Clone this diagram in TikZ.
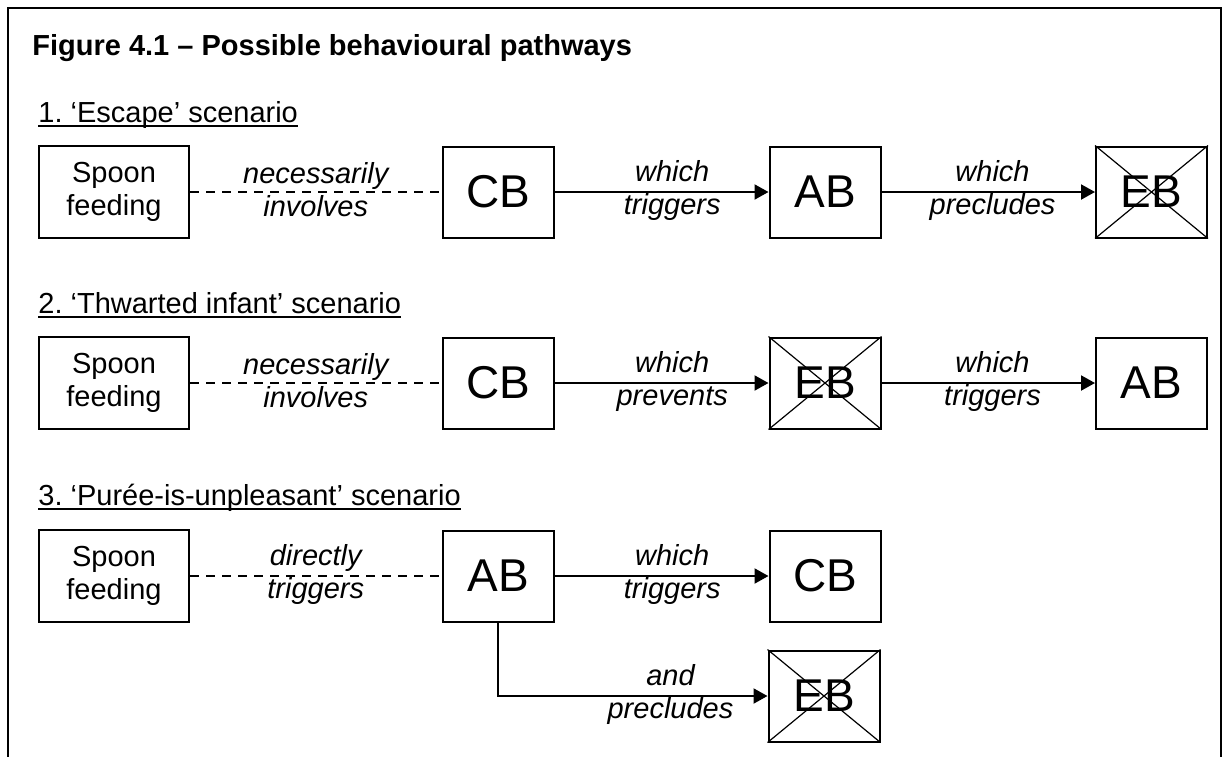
\documentclass[tikz,border=0pt]{standalone}
\usepackage{fontspec}
\setmainfont{Liberation Sans}
\usetikzlibrary{arrows.meta}
\frenchspacing
\newcommand\strikebox[1]{\draw[cross] (#1.north west) -- (#1.south east) (#1.north east) -- (#1.south west);}
\newcommand\headline[1]{\draw[line width=1pt] ([yshift=-2pt]#1.base west) -- ([yshift=-2pt]#1.base east);}
\begin{document}
\begin{tikzpicture}[x=0.5pt,y=-0.5pt,
    box/.style={draw,line width=1pt,minimum width=55.5pt,minimum height=45.5pt,inner sep=0pt,font=\fontsize{23}{27}\selectfont},
    feedbox/.style={box,minimum width=75pt,minimum height=46pt,align=center,font=\fontsize{14.5}{16.5}\selectfont},
    heading/.style={anchor=base west,inner sep=0pt,font=\fontsize{14.5}{16.5}\selectfont},
    lbl/.style={align=center,inner sep=0pt,yshift=1pt,font=\fontsize{14.5}{16.5}\selectfont\itshape},
    arr/.style={-{Triangle[length=7pt,width=7.5pt]},line width=1pt},
    link/.style={dash pattern=on 4.5pt off 3.5pt,line width=0.8pt},
    cross/.style={line width=0.6pt}]
    \useasboundingbox (0,0) rectangle (1224,756);
    \draw[line width=1.2pt] (8,790) -- (8,8) -- (1221,8) -- (1221,790);
    \node[heading,font=\fontsize{14.5}{16.5}\selectfont\bfseries] (title) at (32,55) {Figure 4.1 -- Possible behavioural pathways};
    % 1. escape
    \node[heading] (h1) at (38,122) {1. `Escape' scenario};
    \headline{h1}
    \node[feedbox] (sp1) at (114,192) {Spoon\\feeding};
    \node[box] (cb1) at (498,192) {CB};
    \node[box] (ab1) at (825,192) {AB};
    \node[box] (eb1) at (1151.5,192) {EB};
    \strikebox{eb1}
    \draw[link] (sp1) -- node[lbl] {necessarily\\involves} (cb1);
    \draw[arr] (cb1) -- node[lbl,pos=0.55] {which\\triggers} (ab1);
    \draw[arr] (ab1) -- node[lbl,pos=0.52] {which\\precludes} (eb1);
    % 2. thwarted infant
    \node[heading] (h2) at (38,313) {2. `Thwarted infant' scenario};
    \headline{h2}
    \node[feedbox] (sp2) at (114,383) {Spoon\\feeding};
    \node[box] (cb2) at (498,383) {CB};
    \node[box] (eb2) at (825,383) {EB};
    \node[box] (ab2) at (1151.5,383) {AB};
    \strikebox{eb2}
    \draw[link] (sp2) -- node[lbl] {necessarily\\involves} (cb2);
    \draw[arr] (cb2) -- node[lbl,pos=0.55] {which\\prevents} (eb2);
    \draw[arr] (eb2) -- node[lbl,pos=0.52] {which\\triggers} (ab2);
    % 3. puree
    \node[heading] (h3) at (38,505) {3. `Purée-is-unpleasant' scenario};
    \headline{h3}
    \node[feedbox] (sp3) at (114,576) {Spoon\\feeding};
    \node[box] (ab3) at (498,576) {AB};
    \node[box] (cb3) at (825,576) {CB};
    \node[box] (eb3) at (824,696) {EB};
    \strikebox{eb3}
    \draw[link] (sp3) -- node[lbl] {directly\\triggers} (ab3);
    \draw[arr] (ab3) -- node[lbl,pos=0.55] {which\\triggers} (cb3);
    \draw[arr] (ab3) |- node[lbl,pos=0.82] {and\\precludes} (eb3);
\end{tikzpicture}
\end{document}
